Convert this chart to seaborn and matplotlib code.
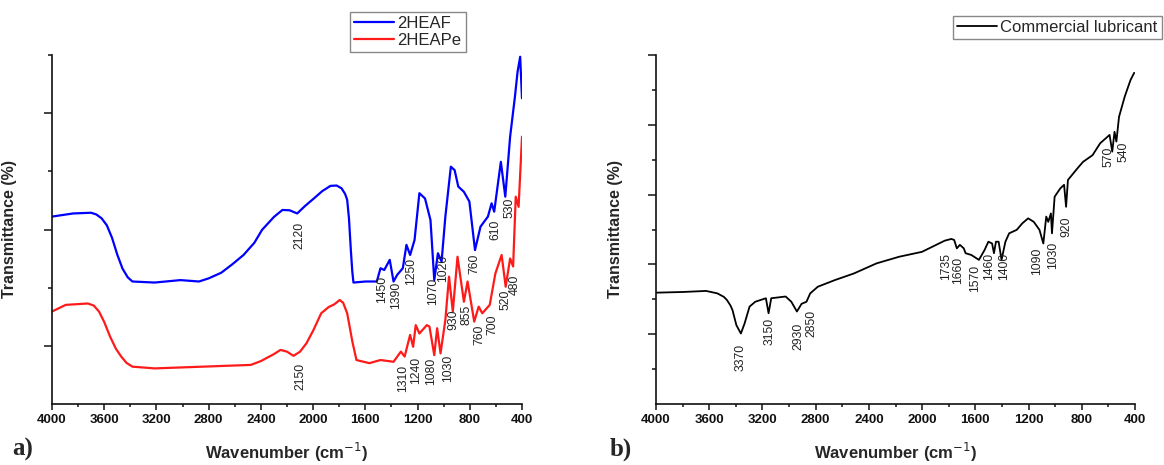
# FTIR spectra: a) 2HEAF / 2HEAPe, b) commercial lubricant
import numpy as np
import matplotlib
matplotlib.use("Agg")
import matplotlib.pyplot as plt
import seaborn as sns

# ---- data (wavenumber in cm-1, transmittance in arbitrary %) ----
heaf_wn = [4000, 3838, 3700, 3660, 3620, 3580, 3540, 3500, 3460, 3420, 3384, 3214, 3016, 2874,
           2800, 2704, 2620, 2533, 2450, 2391, 2300, 2235, 2180, 2122, 2060, 1994, 1930, 1867,
           1820, 1782, 1755, 1739, 1725, 1711, 1700, 1691, 1597, 1512, 1484, 1455, 1413, 1384,
           1356, 1313, 1285, 1257, 1223, 1186, 1143, 1101, 1072, 1044, 1016, 987, 945, 916,
           888, 845, 803, 760, 718, 661, 633, 613, 562, 528, 491, 454, 434, 414, 400]
heaf_t = [53.7, 54.6, 54.8, 54.3, 53.2, 51.2, 47.6, 42.8, 38.8, 36.3, 35.1, 34.8, 35.5, 35.1,
          36.0, 37.6, 40.0, 42.7, 46.2, 49.9, 53.6, 55.6, 55.5, 54.6, 56.8, 58.9, 61.0, 62.5,
          62.6, 61.8, 60.2, 58.5, 53.0, 44.1, 38.0, 34.8, 35.1, 35.1, 38.9, 38.4, 41.3, 35.1,
          37.0, 38.9, 45.6, 42.7, 47.0, 60.4, 58.9, 52.7, 35.5, 43.2, 40.8, 53.7, 68.0, 67.0,
          62.3, 60.8, 58.0, 44.1, 50.8, 53.7, 57.5, 55.1, 69.4, 59.4, 76.6, 88.1, 95.2, 99.5, 87.6]

heape_wn = [4000, 3895, 3725, 3680, 3640, 3600, 3555, 3510, 3470, 3430, 3384, 3214, 2477, 2400,
            2300, 2250, 2200, 2150, 2100, 2051, 2000, 1938, 1880, 1840, 1796, 1770, 1739, 1700,
            1668, 1569, 1484, 1384, 1328, 1299, 1257, 1234, 1214, 1186, 1129, 1109, 1072, 1050,
            1024, 987, 959, 930, 894, 845, 817, 766, 732, 704, 647, 604, 556, 525, 491, 468,
            448, 426, 400]
heape_t = [26.5, 28.4, 28.8, 28.2, 26.5, 23.5, 19.3, 15.8, 13.6, 11.8, 10.7, 10.2, 11.2, 12.3,
           14.3, 15.5, 15.0, 13.8, 15.0, 17.4, 21.0, 26.0, 27.8, 28.5, 29.8, 29.0, 26.0, 18.0,
           12.6, 11.7, 12.6, 12.1, 15.0, 13.6, 19.8, 16.4, 22.6, 20.2, 22.6, 22.2, 14.0, 21.7,
           14.5, 24.1, 36.5, 26.5, 42.2, 29.3, 35.1, 23.6, 27.9, 26.0, 28.4, 37.4, 42.7, 33.6,
           41.7, 39.4, 59.4, 56.5, 76.6]

lub_wn = [4000, 3795, 3624, 3539, 3490, 3467, 3440, 3425, 3396, 3362, 3334, 3297, 3254, 3174,
          3154, 3134, 3026, 2983, 2941, 2906, 2869, 2841, 2784, 2656, 2513, 2342, 2172, 2001,
          1830, 1780, 1759, 1739, 1716, 1687, 1673, 1630, 1573, 1531, 1502, 1474, 1460, 1445,
          1425, 1403, 1374, 1346, 1289, 1246, 1203, 1161, 1118, 1089, 1067, 1052, 1032, 1024,
          1004, 961, 933, 918, 904, 833, 790, 719, 662, 591, 571, 554, 540, 520, 477, 434, 406]
lub_t = [31.9, 32.1, 32.4, 31.7, 30.7, 29.8, 28.2, 26.9, 22.6, 20.2, 23.1, 27.9, 29.3, 30.3,
         26.0, 30.3, 30.8, 29.3, 26.5, 28.7, 29.3, 31.7, 33.6, 35.5, 37.4, 40.3, 42.2, 43.6,
         46.8, 47.3, 47.0, 44.6, 45.6, 44.6, 43.2, 42.7, 41.3, 44.1, 46.5, 46.0, 43.2, 46.5,
         46.5, 41.3, 46.5, 48.9, 49.9, 51.8, 53.2, 52.2, 49.9, 46.0, 53.7, 52.2, 54.6, 48.9,
         59.4, 61.8, 62.8, 56.5, 64.2, 67.5, 69.4, 71.3, 74.7, 77.1, 72.3, 78.0, 75.2, 82.3,
         88.1, 92.8, 94.9]

# peak labels and where their text sits
heaf_peaks = ["2120", "1450", "1390", "1250", "1070", "1020", "760", "610", "530"]
heaf_peak_x = [2108, 1475, 1365, 1248, 1081, 1001, 766, 604, 496]
heaf_peak_y = [48.4, 32.7, 31.2, 37.9, 32.2, 38.9, 40.3, 49.9, 56.1]

heape_peaks = ["2150", "1310", "1240", "1080", "1030", "930", "855", "760", "700", "520", "480"]
heape_peak_x = [2099, 1308, 1209, 1098, 965, 922, 826, 729, 624, 525, 457]
heape_peak_y = [7.8, 7.4, 9.7, 9.3, 10.2, 24.1, 25.5, 19.8, 22.6, 29.8, 34.1]

lub_peaks = ["3370", "3150", "2930", "2850", "1735", "1660", "1570", "1460", "1400",
             "1090", "1030", "920", "570", "540"]
lub_peak_x = [3362, 3148, 2926, 2835, 1816, 1730, 1602, 1497, 1380, 1138, 1018, 918, 599, 483]
lub_peak_y = [13.3, 20.7, 19.3, 23.1, 39.4, 38.4, 36.0, 39.4, 39.4, 40.8, 42.7, 50.8, 70.9, 72.3]

x_ticks = [4000, 3600, 3200, 2800, 2400, 2000, 1600, 1200, 800, 400]

sns.set_style("ticks")
plt.rcParams["font.family"] = ["Liberation Sans", "DejaVu Sans"]

fig = plt.figure(figsize=(11.64, 4.65), dpi=100)
ax_a = fig.add_axes([52 / 1164, 1 - 404 / 465, 470 / 1164, 349 / 465])
ax_b = fig.add_axes([656 / 1164, 1 - 404 / 465, 479 / 1164, 349 / 465])

sns.lineplot(x=heaf_wn, y=heaf_t, ax=ax_a, color="#0000ff", lw=1.6,
             label="2HEAF", estimator=None, sort=False)
sns.lineplot(x=heape_wn, y=heape_t, ax=ax_a, color="#ff1a1a", lw=1.6,
             label="2HEAPe", estimator=None, sort=False)
sns.lineplot(x=lub_wn, y=lub_t, ax=ax_b, color="black", lw=1.3,
             label="Commercial lubricant", estimator=None, sort=False)


def style_axis(ax, ymaj, ymin):
    ax.set_xlim(4000, 400)
    ax.set_ylim(0, 100)
    sns.despine(ax=ax)
    for side in ["left", "bottom"]:
        ax.spines[side].set_linewidth(1.2)
        ax.spines[side].set_color("#111111")
    ax.set_xticks(x_ticks, [str(t) for t in x_ticks], fontweight="bold")
    ax.set_xticks(np.arange(3800, 400, -400), minor=True)
    ax.set_yticks(ymaj, [""] * len(ymaj))
    ax.set_yticks(ymin, minor=True)
    ax.tick_params(axis="x", which="major", direction="out", length=4.5, width=1.1,
                   labelsize=9.5, pad=3, colors="#111111")
    ax.tick_params(axis="x", which="minor", direction="out", length=2.5, width=1.1,
                   colors="#111111")
    ax.tick_params(axis="y", which="major", direction="out", length=5.5, width=1.1,
                   colors="#111111")
    ax.tick_params(axis="y", which="minor", direction="out", length=3, width=1.1,
                   colors="#111111")
    ax.set_xlabel("Wavenumber (cm$^{-1}$)", fontsize=12, fontweight="bold")
    ax.set_ylabel("Transmittance (%)", fontsize=11.5, fontweight="bold")
    ax.xaxis.set_label_coords(0.5, -0.14)
    ax.xaxis.label.set_va("center")


style_axis(ax_a, [100 / 6, 50, 500 / 6], [100 / 3, 200 / 3, 100])
style_axis(ax_b, [20, 40, 60, 80, 100], [10, 30, 50, 70, 90])
ax_a.yaxis.set_label_coords(-0.074, 0.5)
ax_b.yaxis.set_label_coords(-0.068, 0.5)

for ax, names, xs, ys in [(ax_a, heaf_peaks, heaf_peak_x, heaf_peak_y),
                          (ax_a, heape_peaks, heape_peak_x, heape_peak_y),
                          (ax_b, lub_peaks, lub_peak_x, lub_peak_y)]:
    for name, x, y in zip(names, xs, ys):
        ax.text(x, y, name, rotation=90, ha="center", va="center",
                fontsize=8.8, color="#222222")

leg_kw = dict(loc="upper left", bbox_transform=fig.transFigure, borderaxespad=0,
              fancybox=False, framealpha=1, edgecolor="#888888", fontsize=12,
              handlelength=2.4, handletextpad=0.2, borderpad=0.25, labelspacing=0.1)
leg_a = ax_a.legend(bbox_to_anchor=(350 / 1164, 1 - 12 / 465), **leg_kw)
leg_b = ax_b.legend(bbox_to_anchor=(953 / 1164, 1 - 16 / 465), **leg_kw)
for leg in (leg_a, leg_b):
    leg.get_frame().set_linewidth(1.0)

fig.text(12 / 1164, 4 / 465, "a)", fontsize=18, fontweight="bold",
         family=["Liberation Serif", "DejaVu Serif"], va="bottom")
fig.text(610 / 1164, 4 / 465, "b)", fontsize=18, fontweight="bold",
         family=["Liberation Serif", "DejaVu Serif"], va="bottom")

fig.savefig("out.png", dpi=100)
